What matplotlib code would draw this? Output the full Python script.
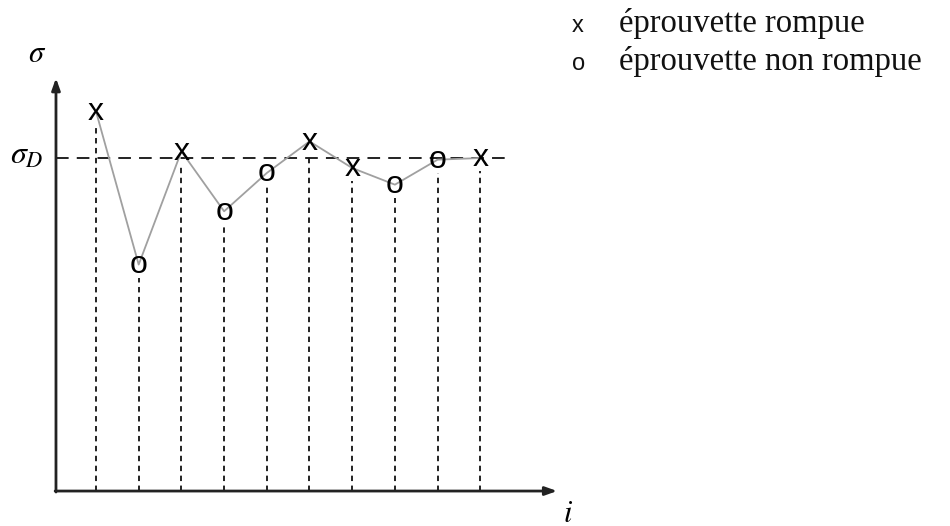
import matplotlib.pyplot as plt
import numpy as np

plt.rcParams['mathtext.fontset'] = 'stix'

# essais de l'escalier (méthode staircase)
essai = np.arange(1, 11)
sigma = [114, 68, 102, 84, 95.5, 105, 97, 92, 99.5, 100]
rompue = [True, False, True, False, False, True, True, False, False, True]
sigma_D = 100

legende = ['éprouvette rompue', 'éprouvette non rompue']
symboles = ['x', 'o']

fig = plt.figure(figsize=(9.5, 5.26), dpi=100)
ax = fig.add_axes([0, 0, 1, 1])
ax.axis('off')
ax.set_xlim(-1.248, 21.0)
ax.set_ylim(-10.5, 147.45)

x_axe = 0.063
x_fin = 11.8
y_fin = 124

# axes avec flèches
ax.annotate('', xy=(x_fin, 0), xytext=(x_axe - 0.02, 0),
            arrowprops=dict(arrowstyle='-|>,head_length=0.7,head_width=0.25',
                            color='#222222', lw=2, shrinkA=0, shrinkB=0))
ax.annotate('', xy=(x_axe, y_fin), xytext=(x_axe, -0.3),
            arrowprops=dict(arrowstyle='-|>,head_length=0.7,head_width=0.25',
                            color='#222222', lw=2, shrinkA=0, shrinkB=0))

# ligne sigma_D
ax.plot([x_axe, 10.63], [sigma_D, sigma_D], color='#111111', lw=1.3,
        dashes=(7, 4.5), zorder=2)

# lignes verticales
for i, s in zip(essai, sigma):
    ax.plot([i, i], [0, s - 4], color='#111111', lw=1.3, dashes=(3, 2.5), zorder=1)

# ligne grise entre les essais
ax.plot(essai, sigma, color='#a0a0a0', lw=1.3, zorder=3)

for i, s, r in zip(essai, sigma, rompue):
    ax.annotate('x' if r else 'o', xy=(i, s), xytext=(0, -6.0), textcoords='offset points',
                ha='center', va='baseline', fontsize=23, family='Liberation Sans',
                color='#000000', zorder=4)

# étiquettes
ax.text(-0.38, 131.5, r'$\sigma$', fontsize=22, ha='center', va='center')
ax.text(-0.63, 100.8, r'$\sigma_D$', fontsize=23, ha='center', va='center')
ax.text(12.05, -6.6, r'$i$', fontsize=22, ha='center', va='center')

# légende
for k, (sym, txt) in enumerate(zip(symboles, legende)):
    y = 137.8 - k * 11.4
    ax.text(12.29, y, sym, fontsize=17, family='Liberation Sans', ha='center',
            va='baseline', color='#111111')
    ax.text(13.25, y, txt, fontsize=23.5, family='Liberation Serif', ha='left',
            va='baseline', color='#111111')

fig.savefig('out.png', dpi=100)
